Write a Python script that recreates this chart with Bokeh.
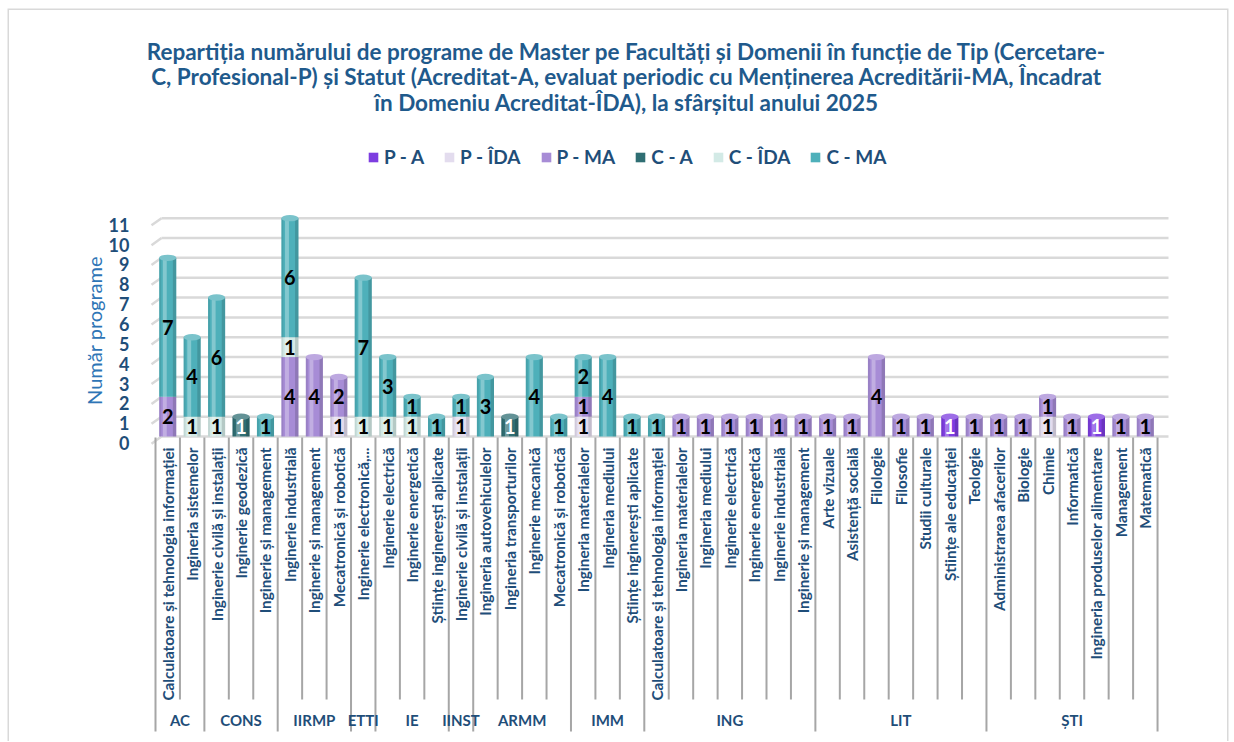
import numpy as np
from bokeh.plotting import figure
from bokeh.models import (ColumnDataSource, Range1d, FixedTicker, Legend, LegendItem,
                          Label, LinearAxis)
from bokeh.core.properties import value
from bokeh.embed import file_html
from bokeh.resources import INLINE

# ---------------- data ----------------
title_lines = [
    "Repartiția numărului de programe de Master pe Facultăți și Domenii în funcție de Tip (Cercetare-",
    "C, Profesional-P) și Statut (Acreditat-A, evaluat periodic cu Menținerea Acreditării-MA, Încadrat",
    "în Domeniu Acreditat-ÎDA), la sfârșitul anului 2025",
]
y_label = "Număr programe"
y_ticks = list(range(0, 12))

faculties = (["AC"] * 2 + ["CONS"] * 3 + ["IIRMP"] * 3 + ["ETTI"] * 1 + ["IE"] * 3 +
             ["IINST"] * 1 + ["ARMM"] * 4 + ["IMM"] * 3 + ["ING"] * 7 + ["LIT"] * 7 + ["ȘTI"] * 7)

domains = [
    "Calculatoare și tehnologia informației", "Ingineria sistemelor",
    "Inginerie civilă și instalații", "Inginerie geodezică", "Inginerie și management",
    "Inginerie industrială", "Inginerie și management", "Mecatronică și robotică",
    "Inginerie electronică,...",
    "Inginerie electrică", "Inginerie energetică", "Științe inginerești aplicate",
    "Inginerie civilă și instalații",
    "Ingineria autovehiculelor", "Ingineria transporturilor", "Inginerie mecanică", "Mecatronică și robotică",
    "Ingineria materialelor", "Ingineria mediului", "Științe inginerești aplicate",
    "Calculatoare și tehnologia informației", "Ingineria materialelor", "Ingineria mediului",
    "Inginerie electrică", "Inginerie energetică", "Inginerie industrială", "Inginerie și management",
    "Arte vizuale", "Asistență socială", "Filologie", "Filosofie", "Studii culturale",
    "Științe ale educației", "Teologie",
    "Administrarea afacerilor", "Biologie", "Chimie", "Informatică",
    "Ingineria produselor alimentare", "Management", "Matematică",
]

series_names = ["P - A", "P - ÎDA", "P - MA", "C - A", "C - ÎDA", "C - MA"]
series_keys = ["p_a", "p_ida", "p_ma", "c_a", "c_ida", "c_ma"]

p_a   = [0,0,0,0,0,0,0,0,0,0,0,0,0,0,0,0,0,0,0,0,0,0,0,0,0,0,0,0,0,0,0,0,1,0,0,0,0,0,1,0,0]
p_ida = [0,0,0,0,0,0,0,1,0,0,0,0,1,0,0,0,0,1,0,0,0,0,0,0,0,0,0,0,0,0,0,0,0,0,0,0,1,0,0,0,0]
p_ma  = [2,0,0,0,0,4,4,2,0,0,0,0,0,0,0,0,0,1,0,0,0,1,1,1,1,1,1,1,1,4,1,1,0,1,1,1,1,1,0,1,1]
c_a   = [0,0,0,1,0,0,0,0,0,0,0,0,0,0,1,0,0,0,0,0,0,0,0,0,0,0,0,0,0,0,0,0,0,0,0,0,0,0,0,0,0]
c_ida = [0,1,1,0,0,1,0,0,1,1,1,0,0,0,0,0,0,0,0,0,0,0,0,0,0,0,0,0,0,0,0,0,0,0,0,0,0,0,0,0,0]
c_ma  = [7,4,6,0,1,6,0,0,7,3,1,1,1,3,0,4,1,2,4,1,1,0,0,0,0,0,0,0,0,0,0,0,0,0,0,0,0,0,0,0,0]

series_values = [p_a, p_ida, p_ma, c_a, c_ida, c_ma]

# ---------------- styles / layout ----------------
colors = ["#7d3de0", "#e3dcee", "#a78cd6", "#2f6e73", "#d3eae6", "#4eb0ba"]
label_colors = ["white", "black", "black", "white", "black", "black"]
dark_blue = "#1f4e79"
title_blue = "#1f5a8c"
FONT = "Lato"

W, H = 1232, 741
FR_L, FR_T, FR_R, FR_B = 7, 8, 1228, 741      # frame edges in page pixels
X0_PX, CELL_PX = 155.0, 24.44                  # left edge of first category, category width
Y0_PX, UNIT_PX = 436.0, 19.85                  # pixel of value 0, pixels per unit


def px_x(px):
    return (px - X0_PX) / CELL_PX


def px_y(py):
    return (Y0_PX - py) / UNIT_PX


def lighten(hex_color, f):
    h = hex_color.lstrip("#")
    r, g, b = (int(h[i:i + 2], 16) for i in (0, 2, 4))
    r, g, b = (int(c + (255 - c) * f) for c in (r, g, b))
    return "#%02x%02x%02x" % (r, g, b)


n = len(domains)
xs = np.arange(n) + 0.5

src_dict = dict(x=xs)
for k, v in zip(series_keys, series_values):
    src_dict[k] = v
source = ColumnDataSource(src_dict)

x_rng = Range1d(px_x(FR_L), px_x(FR_R))
y_rng = Range1d(px_y(FR_B), px_y(FR_T))
p = figure(width=W, height=H, x_range=x_rng, y_range=y_rng,
           output_backend="svg", toolbar_location=None, x_axis_location=None, y_axis_location=None,
           min_border_left=FR_L, min_border_right=W - FR_R, min_border_top=FR_T, min_border_bottom=H - FR_B)
p.outline_line_color = None
p.background_fill_color = "white"
p.border_fill_color = "white"
p.xgrid.visible = False
p.ygrid.visible = False

# chart-area border (left, top, right; it runs off the bottom of the picture)
p.line(x=[x_rng.start, x_rng.start, x_rng.end, x_rng.end],
       y=[y_rng.start, y_rng.end, y_rng.end, y_rng.start],
       line_color="#d9d9d9", line_width=3)

# gridlines (with a small 3-D slant at the left end)
gx0 = px_x(161)
gx1 = px_x(1168)
p.segment(x0=[gx0] * len(y_ticks), x1=[gx1] * len(y_ticks), y0=y_ticks, y1=y_ticks,
          line_color="#d9d9d9", line_width=2.5)
p.segment(x0=[px_x(151)] * len(y_ticks), x1=[gx0] * len(y_ticks),
          y0=[t - 0.36 for t in y_ticks], y1=y_ticks, line_color="#d9d9d9", line_width=2.5)

# y axis drawn inside the frame at a fixed location (labels sit at the front edge of the slant)
shift = 0.33
p.extra_y_ranges = {"ticks": Range1d(px_y(FR_B) + shift, px_y(FR_T) + shift)}
ax = LinearAxis(y_range_name="ticks", fixed_location=px_x(145))
ax.ticker = FixedTicker(ticks=y_ticks)
ax.axis_line_color = None
ax.major_tick_line_color = None
ax.minor_tick_line_color = None
ax.major_label_text_font = FONT
ax.major_label_text_font_size = "18px"
ax.major_label_text_font_style = "bold"
ax.major_label_text_color = dark_blue
ax.major_label_standoff = 10
p.add_layout(ax, "left")

p.add_layout(Label(x=px_x(93), y=px_y(330), text=y_label, angle=np.pi / 2,
                   text_align="center", text_baseline="middle",
                   text_font=FONT, text_font_size="20px", text_color="#2e75b6"))

# stacked bars
renderers = p.vbar_stack(series_keys, x="x", width=0.7, fill_color=colors,
                         line_color=None, source=source)

# segments (for shading + labels)
seg = dict(x=[], bottom=[], top=[], mid=[], text=[], tc=[])
totals = np.zeros(n)
top_color = [None] * n
for si, vals in enumerate(series_values):
    for i, v in enumerate(vals):
        if v > 0:
            seg["x"].append(xs[i])
            seg["bottom"].append(totals[i])
            seg["top"].append(totals[i] + v)
            seg["mid"].append(totals[i] + v / 2)
            seg["text"].append(str(v))
            seg["tc"].append(label_colors[si])
            totals[i] += v
            top_color[i] = colors[si]
seg_src = ColumnDataSource(seg)
seg_src.data["xl"] = [x - 0.12 for x in seg["x"]]
seg_src.data["xr"] = [x + 0.28 for x in seg["x"]]
seg_src.data["xe"] = [x - 0.31 for x in seg["x"]]

# cylinder shading
p.vbar(x="xl", bottom="bottom", top="top", width=0.16, source=seg_src,
       fill_color="white", fill_alpha=0.30, line_color=None)
p.vbar(x="xr", bottom="bottom", top="top", width=0.14, source=seg_src,
       fill_color="black", fill_alpha=0.14, line_color=None)
p.vbar(x="xe", bottom="bottom", top="top", width=0.08, source=seg_src,
       fill_color="black", fill_alpha=0.08, line_color=None)

cap_src = ColumnDataSource(dict(x=xs, y=totals,
                                c=[lighten(c, 0.25) if c else "white" for c in top_color]))
p.ellipse(x="x", y="y", width=0.7, height=0.32, source=cap_src,
          fill_color="c", line_color=None)

# value labels
p.text(x="x", y="mid", text="text", source=seg_src, text_color="tc",
       text_font=value(FONT), text_font_size="20px", text_font_style="bold",
       text_align="center", text_baseline="middle")

# legend
legend = Legend(items=[LegendItem(label=nm, renderers=[r]) for nm, r in zip(series_names, renderers)],
                orientation="horizontal", location=(367 - FR_L, FR_B - 168))
legend.background_fill_alpha = 0
legend.border_line_alpha = 0
legend.label_text_font = FONT
legend.label_text_font_size = "19px"
legend.label_text_font_style = "bold"
legend.label_text_color = dark_blue
legend.glyph_width = 12
legend.glyph_height = 12
legend.label_standoff = 5
legend.spacing = 19
legend.padding = 0
legend.margin = 0
p.add_layout(legend)

# title
for line, base_px in zip(title_lines, [50.7, 76.2, 101.7]):
    p.add_layout(Label(x=px_x(626), y=px_y(base_px), text=line,
                       text_align="center", text_baseline="alphabetic",
                       text_font=FONT, text_font_size="22.5px", text_font_style="bold",
                       text_color=title_blue))

# category table below the bars
group_bounds = [0] + [i for i in range(1, n) if faculties[i] != faculties[i - 1]] + [n]
cell_bounds = [b for b in range(n + 1) if b not in group_bounds]

p.segment(x0=cell_bounds, x1=cell_bounds, y0=[px_y(437)] * len(cell_bounds),
          y1=[px_y(699)] * len(cell_bounds), line_color="#a6a6a6", line_width=2)
p.segment(x0=group_bounds, x1=group_bounds, y0=[px_y(437)] * len(group_bounds),
          y1=[px_y(731)] * len(group_bounds), line_color="#a6a6a6", line_width=2)

lab_src = ColumnDataSource(dict(x=xs, y=[px_y(447)] * n, t=domains))
p.text(x="x", y="y", text="t", source=lab_src, angle=np.pi / 2,
       text_align="right", text_baseline="middle",
       text_font=value(FONT), text_font_size="15.3px", text_font_style="bold",
       text_color=dark_blue)

grp_names = [faculties[b] for b in group_bounds[:-1]]
grp_x = [(a + b) / 2 for a, b in zip(group_bounds[:-1], group_bounds[1:])]
grp_lab = ColumnDataSource(dict(x=grp_x, y=[px_y(719)] * len(grp_x), t=grp_names))
p.text(x="x", y="y", text="t", source=grp_lab,
       text_align="center", text_baseline="middle",
       text_font=value(FONT), text_font_size="15px", text_font_style="bold",
       text_color=dark_blue)

open("out.html", "w").write(file_html(p, INLINE))
